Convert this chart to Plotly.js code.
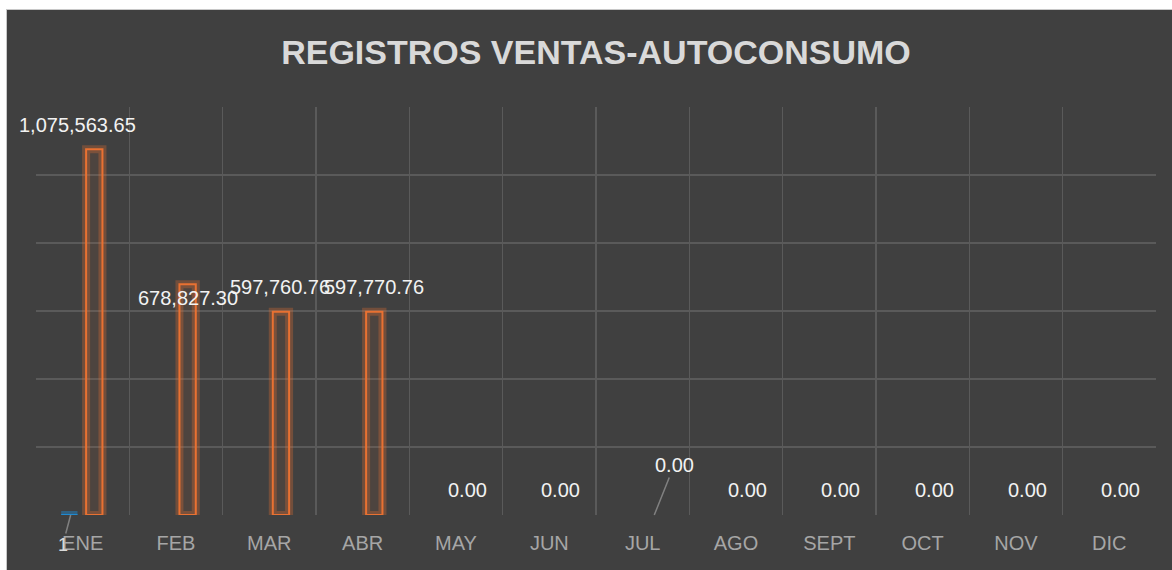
<!DOCTYPE html>
<html><head><meta charset="utf-8">
<script src="https://cdn.plot.ly/plotly-3.0.1.min.js"></script>
<style>
html,body{margin:0;padding:0;background:#ffffff;overflow:hidden;}
#wrap{position:absolute;left:6px;top:9px;width:1166px;height:561px;border-left:1px solid #c8c8c8;border-top:1px solid #c8c8c8;}
#chart{width:1165px;height:560px;}
</style></head><body><div id="wrap"><div id="chart"></div></div>
<script>
// ---- data ----
const months = ['ENE','FEB','MAR','ABR','MAY','JUN','JUL','AGO','SEPT','OCT','NOV','DIC'];
const ventas = [1075563.65, 678827.30, 597760.76, 597770.76, 0, 0, 0, 0, 0, 0, 0, 0];
const autoconsumo = [1, null, null, null, null, null, null, null, null, null, null, null];
const chartTitle = 'REGISTROS VENTAS-AUTOCONSUMO';

// ---- styles / label placement (pixels) ----
const orange = '#E97132';
const blue = '#1E8AD2';
const labelDx = [-5.5, 11.7, 11, 11, 11.6, 11.6, 11.6, 11.6, 11.6, 11.6, 11.6, 11.6];
const labelDy = [24, -14, 25, 25, 25, 25, 0, 25, 25, 25, 25, 25];
const fmt = v => v.toLocaleString('en-US', {minimumFractionDigits: 2, maximumFractionDigits: 2});

const font = 'Liberation Sans, Arial, sans-serif';
const W = 0.175, OFF_O = 0.037, OFF_B = -0.23;
// zero-height bars are not drawn in the reference
const ventasBars = ventas.map(v => v === 0 ? null : v);

const traces = [
  {type:'bar', x:months, y:autoconsumo, width:W, offset:OFF_B, hoverinfo:'skip',
   marker:{color:'rgba(30,138,210,0.15)', line:{color:'rgba(30,138,210,0.45)', width:8}}},
  {type:'bar', x:months, y:autoconsumo, width:W, offset:OFF_B, name:'AUTOCONSUMO',
   marker:{color:'rgba(0,0,0,0)', line:{color:blue, width:2}}},
  {type:'bar', x:months, y:ventasBars, width:W, offset:OFF_O, hoverinfo:'skip',
   marker:{color:'rgba(233,113,50,0.08)', line:{color:'rgba(233,113,50,0.30)', width:8}}},
  {type:'bar', x:months, y:ventasBars, width:W, offset:OFF_O, name:'VENTAS',
   marker:{color:'rgba(0,0,0,0)', line:{color:orange, width:2}}}
];

const annotations = months.map((m, i) => {
  const a = {x:m, y:ventas[i], xref:'x', yref:'y', text:fmt(ventas[i]),
    xshift:labelDx[i], yshift:labelDy[i], showarrow:false, yanchor:'middle', xanchor:'center',
    font:{family:font, size:20, color:'#f2f2f2'}};
  if (m === 'JUL') {
    Object.assign(a, {showarrow:true, arrowhead:0, arrowwidth:1.5, arrowcolor:'#808080',
      ax:20, ay:-50, xshift:11.6, yshift:0, standoff:0});
  }
  return a;
});
annotations.push({x:months[0], y:autoconsumo[0], xref:'x', yref:'y', text:String(autoconsumo[0]),
  xshift:-12, showarrow:true, arrowhead:0, arrowwidth:1.5, arrowcolor:'#808080', ax:-8, ay:30,
  font:{family:font, size:18, color:'#d9d9d9'}});

const layout = {
  paper_bgcolor:'#404040', plot_bgcolor:'#404040',
  margin:{l:29, r:16, t:97, b:55},
  showlegend:false, barmode:'overlay',
  title:{text:'<b>'+chartTitle+'</b>', x:0.5, xref:'paper', y:0.925, yref:'container', yanchor:'middle',
    font:{family:font, size:34, color:'#d9d9d9'}},
  xaxis:{type:'category', range:[-0.5, 11.5], autorange:false, tickson:'boundaries', showgrid:true,
    gridcolor:'#5a5a5a', gridwidth:1.5,
    ticks:'', showline:false, zeroline:false, ticklabelstandoff:14,
    tickfont:{family:font, size:20, color:'#a6a6a6'}},
  yaxis:{range:[0,1200000], dtick:200000, showticklabels:false, showgrid:true,
    gridcolor:'#5a5a5a', gridwidth:1.5, zeroline:false, showline:false, ticks:''},
  annotations:annotations
};

Plotly.newPlot('chart', traces, layout, {displayModeBar:false, staticPlot:true});
</script></body></html>
